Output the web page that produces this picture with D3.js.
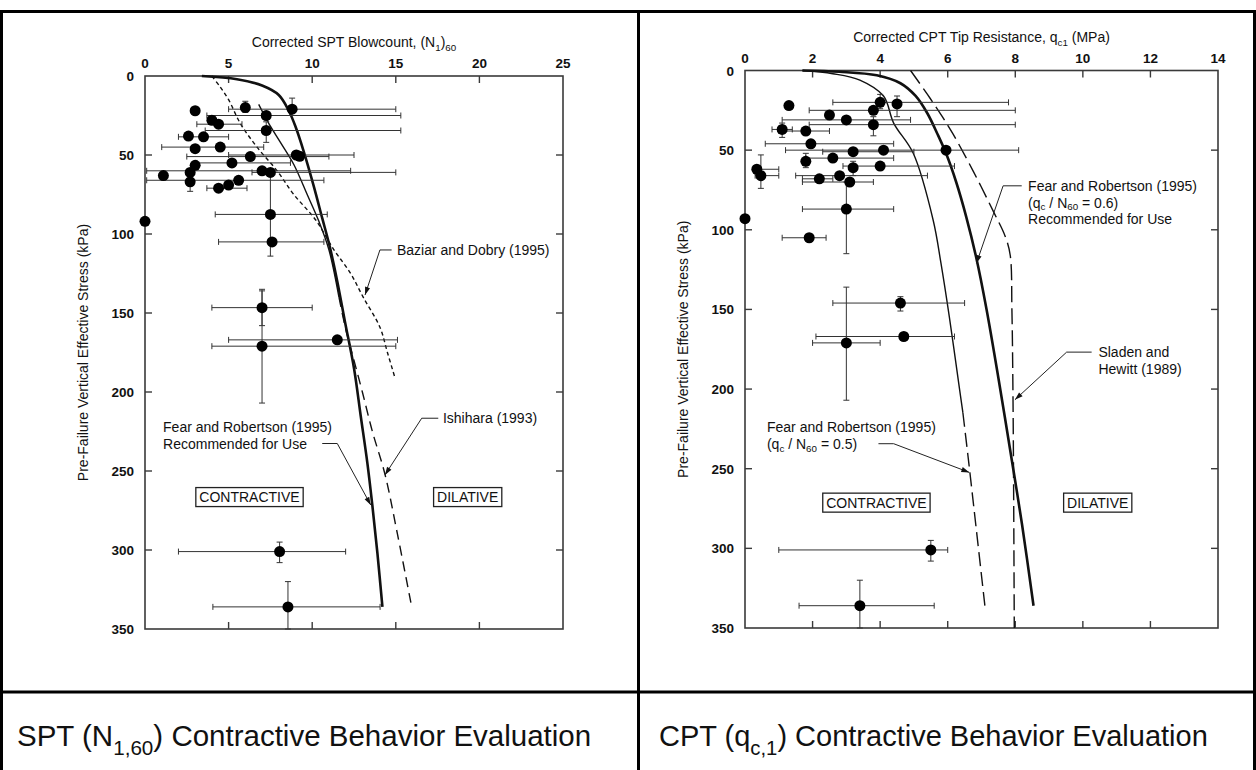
<!DOCTYPE html>
<html>
<head>
<meta charset="utf-8">
<script src="https://cdn.jsdelivr.net/npm/d3@7"></script>
<style>
  html, body { margin: 0; padding: 0; background: #fff; }
  svg { display: block; }
  text { font-family: "Liberation Sans", Arial, Helvetica, sans-serif; fill: #111; }
</style>
</head>
<body>
<svg id="chart" width="1256" height="770"></svg>
<script>
// ---- Axis ticks ----
const sptXTicks = [0, 5, 10, 15, 20, 25];
const cptXTicks = [0, 2, 4, 6, 8, 10, 12, 14];
const stressTicks = [0, 50, 100, 150, 200, 250, 300, 350];

// ---- Case histories: [x, stress kPa, xLow, xHigh, stressLow, stressHigh] ----
const sptPoints = [
  [0, 92], [1.1, 63], [3.0, 22],
  [6.0, 20, null, null, 16, 23],
  [8.8, 21, 5.0, 15.0, 14, 25],
  [7.25, 25, 3.7, 15.3],
  [4.0, 28],
  [4.4, 30.5, 3.1, 5.8],
  [7.25, 34.5, 3.6, 15.3, 29, 42],
  [2.6, 38],
  [3.5, 38.5, 2.0, 5.0],
  [3.0, 46],
  [4.5, 45, 1.0, 7.1],
  [6.3, 51, 2.5, 11.0],
  [9.05, 50, 5.0, 12.5],
  [9.25, 50.8],
  [5.2, 55, 3.1, 8.7],
  [3.0, 56.5], [2.7, 61],
  [7.0, 60, 0.1, 12.3],
  [7.5, 61, 6.4, 15.0],
  [2.7, 67, null, null, 61, 73],
  [5.6, 66, 0.1, 10.7],
  [4.4, 71, 3.7, 6.1],
  [5.0, 69],
  [7.5, 87.6, 4.2, 10.9, 61, 114],
  [7.6, 105, 4.4, 10.7],
  [7.0, 146.6, 4.0, 10.0, 136, 158],
  [7.0, 171, 4.0, 15.0, 135, 207],
  [11.5, 167, 5.0, 15.1],
  [8.05, 301, 2.0, 12.0, 295, 308],
  [8.55, 336, 4.06, 14.06, 320, 350]
];

const cptPoints = [
  [0, 93], [1.3, 22],
  [4.0, 20, 2.6, 7.8, 15, 24],
  [4.5, 21, null, null, 16, 29],
  [3.8, 25, 1.9, 8.0],
  [2.5, 28],
  [3.0, 31, 1.1, 4.9],
  [3.8, 34, 1.9, 8.0, 29, 41],
  [1.1, 37, 0.8, 1.4, 33, 42],
  [1.8, 38, 1.0, 2.5],
  [1.95, 46, 0.6, 4.4],
  [3.2, 51, 2.3, 5.0],
  [4.1, 50],
  [5.95, 50, 1.2, 8.1],
  [1.8, 57, null, null, 52, 61],
  [2.6, 55, 1.8, 4.4],
  [0.35, 62, 0.3, 1.0],
  [0.47, 66, 0.3, 1.0, 53, 74],
  [3.2, 61, null, null, 57, 66],
  [4.0, 60, 2.9, 6.2],
  [2.8, 66, 1.5, 5.4],
  [2.2, 68, 1.7, 2.6],
  [3.1, 70, 1.7, 3.8],
  [3.0, 87, 1.7, 4.4, 70, 115],
  [1.9, 105, 1.1, 2.4],
  [4.6, 146, 2.6, 6.5, 142, 151],
  [4.7, 167, 2.1, 6.2],
  [3.0, 171, 2.0, 4.0, 136, 207],
  [5.5, 301, 1.0, 6.0, 295, 308],
  [3.4, 336, 1.6, 5.6, 320, 350]
];

// ---- Contractive / dilative boundaries: [x, stress kPa] ----
const sptFearRobertson = [[3.4,0],[5.5,2],[7.0,6],[8.0,12],[8.6,22],[9.0,32],[9.5,48],[10.1,70],[10.6,90],[11.05,108],[11.5,130],[11.95,155],[12.5,185],[12.9,215],[13.3,245],[13.6,272],[13.9,302],[14.2,336]];
const sptBaziarDobry = [[4.0,0],[4.5,7],[5.0,15],[5.7,30],[6.7,45],[7.9,60],[8.9,75],[10.2,91],[11.3,110],[12.3,125],[13.05,140],[14.05,159],[14.5,175],[14.95,191]];
const sptIshihara = [[6.8,18],[7.4,30],[8.1,42],[8.9,56],[9.7,75],[10.4,92],[11.0,110],[11.6,140],[12.0,160],[12.5,180],[13.0,200],[13.6,225],[14.35,252],[15.1,290],[15.95,336]];
const sptIshiharaSolidTo = 140;

const cptFear06 = [[1.7,0],[2.8,0.8],[3.9,3],[4.6,8],[5.05,16],[5.4,27],[5.7,40],[5.95,52],[6.25,70],[6.55,92],[6.85,118],[7.15,150],[7.5,193],[7.9,245],[8.2,285],[8.54,336]];
const cptFear05 = [[1.7,0],[2.6,2],[3.4,6],[4.1,16],[4.4,33],[4.98,52],[5.57,94],[5.8,121],[6.05,155],[6.35,200],[6.45,215],[6.6,242],[6.66,253],[7.1,336]];
const cptFear05SolidTo = 215;
const cptSladenHewitt = [[4.9,0],[5.4,15],[5.84,29],[6.16,40],[6.75,63],[7.34,88],[7.7,104],[7.85,116],[7.9,150],[7.93,200],[7.95,260],[7.97,350]];

const svg = d3.select('#chart');
const FS = 14;      // annotation text size
const TICK_FS = 13.5;
const LINE_GAP = 16.8;

// ---- Table frame ----
const frame = svg.append('g').attr('stroke', '#000').attr('fill', 'none');
frame.append('line').attr('x1', 0).attr('x2', 1256).attr('y1', 11.5).attr('y2', 11.5).attr('stroke-width', 3);
frame.append('line').attr('x1', 0).attr('x2', 1256).attr('y1', 692).attr('y2', 692).attr('stroke-width', 3);
frame.append('line').attr('x1', 1.5).attr('x2', 1.5).attr('y1', 10).attr('y2', 770).attr('stroke-width', 3);
frame.append('line').attr('x1', 638.5).attr('x2', 638.5).attr('y1', 10).attr('y2', 770).attr('stroke-width', 3);
frame.append('line').attr('x1', 1254.5).attr('x2', 1254.5).attr('y1', 10).attr('y2', 770).attr('stroke-width', 3);

// rich text helper: parts = [[string, 'n' | 'sub'], ...]
function rich(sel, parts, size, subShift = 0.3) {
  parts.forEach(([t, kind], i) => {
    const ts = sel.append('tspan').text(t);
    if (kind === 'sub') {
      ts.attr('font-size', size * 0.7).attr('dy', size * subShift);
    } else if (i > 0 && parts[i - 1][1] === 'sub') {
      ts.attr('dy', -size * subShift);
    }
  });
  return sel;
}

// ---- Captions ----
rich(svg.append('text').attr('x', 17).attr('y', 746).attr('font-size', 29.5),
  [['SPT (N', 'n'], ['1,60', 'sub'], [') Contractive Behavior Evaluation', 'n']], 29.5);
rich(svg.append('text').attr('x', 659).attr('y', 746).attr('font-size', 29),
  [['CPT (q', 'n'], ['c,1', 'sub'], [') Contractive Behavior Evaluation', 'n']], 29);

function drawPanel(cfg) {
  const g = svg.append('g');
  const x = d3.scaleLinear().domain([0, cfg.xMax]).range([cfg.x0, cfg.x1]);
  const y = d3.scaleLinear().domain([0, 350]).range([cfg.y0, cfg.y1]);
  const axisColor = '#3a3a3a';
  const tickLen = 7;

  // frame
  g.append('rect').attr('x', x(0)).attr('y', y(0))
    .attr('width', x(cfg.xMax) - x(0)).attr('height', y(350) - y(0))
    .attr('fill', 'none').attr('stroke', axisColor).attr('stroke-width', 1.6);

  // inward ticks on all four sides
  const xt = cfg.xTicks.slice(1, -1);
  const yt = stressTicks.slice(1, -1);
  const tk = g.append('g').attr('stroke', axisColor).attr('stroke-width', 1.4);
  xt.forEach(v => {
    tk.append('line').attr('x1', x(v)).attr('x2', x(v)).attr('y1', y(0)).attr('y2', y(0) + tickLen);
    tk.append('line').attr('x1', x(v)).attr('x2', x(v)).attr('y1', y(350)).attr('y2', y(350) - tickLen);
  });
  yt.forEach(v => {
    tk.append('line').attr('y1', y(v)).attr('y2', y(v)).attr('x1', x(0)).attr('x2', x(0) + tickLen);
    tk.append('line').attr('y1', y(v)).attr('y2', y(v)).attr('x1', x(cfg.xMax)).attr('x2', x(cfg.xMax) - tickLen);
  });

  // tick labels
  g.append('g').selectAll('text').data(cfg.xTicks).join('text')
    .attr('x', d => x(d)).attr('y', y(0) - 13 + 5)
    .attr('text-anchor', 'middle').attr('font-size', TICK_FS).attr('font-weight', 'bold')
    .text(d => d);
  g.append('g').selectAll('text').data(stressTicks).join('text')
    .attr('x', x(0) - 11).attr('y', d => y(d) + 5)
    .attr('text-anchor', 'end').attr('font-size', TICK_FS).attr('font-weight', 'bold')
    .text(d => d);

  // axis titles
  rich(g.append('text').attr('x', (cfg.x0 + cfg.x1) / 2).attr('y', y(0) - 34 + 5)
    .attr('text-anchor', 'middle').attr('font-size', FS), cfg.xTitle, FS);
  const yc = (cfg.y0 + cfg.y1) / 2;
  g.append('text').attr('transform', `translate(${cfg.x0 - 62},${yc}) rotate(-90)`)
    .attr('text-anchor', 'middle').attr('dy', 5).attr('font-size', FS)
    .text('Pre-Failure Vertical Effective Stress  (kPa)');

  // boundary curves
  const line = d3.line().x(d => x(d[0])).y(d => y(d[1])).curve(d3.curveCatmullRom.alpha(0.5));
  cfg.curves.forEach(c => {
    if (c.solidTo != null) {
      const upper = c.data.filter(d => d[1] <= c.solidTo);
      const lower = c.data.filter(d => d[1] >= c.solidTo);
      g.append('path').attr('d', line(upper)).attr('fill', 'none')
        .attr('stroke', '#111').attr('stroke-width', c.width);
      g.append('path').attr('d', line(lower)).attr('fill', 'none')
        .attr('stroke', '#111').attr('stroke-width', c.width).attr('stroke-dasharray', c.dash);
    } else {
      g.append('path').attr('d', line(c.data)).attr('fill', 'none')
        .attr('stroke', '#111').attr('stroke-width', c.width)
        .attr('stroke-dasharray', c.dash || null);
    }
  });

  // error bars
  const eb = g.append('g').attr('stroke', '#333').attr('stroke-width', 1);
  const cap = 3;
  cfg.points.forEach(p => {
    const [px, py, xl, xh, yl, yh] = p;
    if (xl != null) {
      eb.append('line').attr('x1', x(xl)).attr('x2', x(xh)).attr('y1', y(py)).attr('y2', y(py));
      [xl, xh].forEach(v => eb.append('line').attr('x1', x(v)).attr('x2', x(v))
        .attr('y1', y(py) - cap).attr('y2', y(py) + cap));
    }
    if (yl != null) {
      eb.append('line').attr('x1', x(px)).attr('x2', x(px)).attr('y1', y(yl)).attr('y2', y(yh));
      [yl, yh].forEach(v => eb.append('line').attr('y1', y(v)).attr('y2', y(v))
        .attr('x1', x(px) - cap).attr('x2', x(px) + cap));
    }
  });

  // data points
  g.append('g').selectAll('circle').data(cfg.points).join('circle')
    .attr('cx', d => x(d[0])).attr('cy', d => y(d[1])).attr('r', 5.5).attr('fill', '#000');

  // annotations with leader arrows
  cfg.notes.forEach(n => {
    n.lines.forEach((ln, i) => {
      rich(g.append('text').attr('x', x(n.at[0])).attr('y', y(n.at[1]) + i * LINE_GAP + 5)
        .attr('font-size', FS), ln, FS, 0.2);
    });
    const pts = n.leader.map(d => [x(d[0]), y(d[1])]);
    g.append('path').attr('d', d3.line()(pts)).attr('fill', 'none')
      .attr('stroke', '#222').attr('stroke-width', 1);
    const [ex, ey] = pts[pts.length - 2];
    const [tx, ty] = pts[pts.length - 1];
    const a = Math.atan2(ty - ey, tx - ex);
    const L = 8, Wd = 2.6;
    const bx = tx - L * Math.cos(a), by = ty - L * Math.sin(a);
    g.append('path')
      .attr('d', `M${tx},${ty}L${bx - Wd * Math.sin(a)},${by + Wd * Math.cos(a)}L${bx + Wd * Math.sin(a)},${by - Wd * Math.cos(a)}Z`)
      .attr('fill', '#111');
  });

  // region labels in boxes
  cfg.regions.forEach(r => {
    const rg = g.append('g');
    const box = rg.append('rect');
    const t = rg.append('text').attr('x', x(r.at[0])).attr('y', y(r.at[1]) + 5)
      .attr('text-anchor', 'middle').attr('font-size', FS).text(r.label);
    const bb = t.node().getBBox();
    box.attr('x', bb.x - 3.5).attr('y', y(r.at[1]) - 9.5)
      .attr('width', bb.width + 7).attr('height', 19)
      .attr('fill', '#fff').attr('stroke', '#222').attr('stroke-width', 1.3);
  });
}

drawPanel({
  x0: 145, x1: 563, y0: 76, y1: 629, xMax: 25, xTicks: sptXTicks,
  xTitle: [['Corrected SPT Blowcount, (N', 'n'], ['1', 'sub'], [')', 'n'], ['60', 'sub']],
  points: sptPoints,
  curves: [
    { data: sptBaziarDobry, width: 1.4, dash: '4,3' },
    { data: sptIshihara, width: 1.4, dash: '10,6', solidTo: sptIshiharaSolidTo },
    { data: sptFearRobertson, width: 2.6 }
  ],
  notes: [
    { lines: [[['Baziar and Dobry (1995)', 'n']]], at: [15.07, 110.1],
      leader: [[14.75, 110.1], [14.05, 110.1], [13.16, 138.6]] },
    { lines: [[['Ishihara (1993)', 'n']]], at: [17.82, 216.6],
      leader: [[17.54, 216.6], [16.55, 216.6], [14.35, 252.5]] },
    { lines: [[['Fear and Robertson (1995)', 'n']], [['Recommended for Use', 'n']]], at: [1.08, 222],
      leader: [[10.6, 232.6], [11.5, 232.6], [13.5, 271.5]] }
  ],
  regions: [
    { label: 'CONTRACTIVE', at: [6.25, 266.5] },
    { label: 'DILATIVE', at: [19.3, 266.5] }
  ]
});

drawPanel({
  x0: 745, x1: 1218, y0: 70.5, y1: 628, xMax: 14, xTicks: cptXTicks,
  xTitle: [['Corrected CPT Tip Resistance, q', 'n'], ['c1', 'sub'], [' (MPa)', 'n']],
  points: cptPoints,
  curves: [
    { data: cptSladenHewitt, width: 1.4, dash: '16,6' },
    { data: cptFear05, width: 1.4, dash: '14,6', solidTo: cptFear05SolidTo },
    { data: cptFear06, width: 2.6 }
  ],
  notes: [
    { lines: [[['Fear and Robertson (1995)', 'n']], [['(q', 'n'], ['c', 'sub'], [' / N', 'n'], ['60', 'sub'], [' = 0.6)', 'n']], [['Recommended for Use', 'n']]],
      at: [8.38, 72.4], leader: [[8.19, 72.4], [7.64, 72.4], [6.85, 121]] },
    { lines: [[['Sladen and', 'n']], [['Hewitt (1989)', 'n']]], at: [10.46, 176.8],
      leader: [[10.26, 176.8], [9.52, 176.8], [7.99, 206.7]] },
    { lines: [[['Fear and Robertson (1995)', 'n']], [['(q', 'n'], ['c', 'sub'], [' / N', 'n'], ['60', 'sub'], [' = 0.5)', 'n']]],
      at: [0.65, 223.8], leader: [[3.95, 234.3], [4.4, 234.3], [6.64, 252.3]] }
  ],
  regions: [
    { label: 'CONTRACTIVE', at: [3.89, 271.3] },
    { label: 'DILATIVE', at: [10.44, 271.3] }
  ]
});
</script>
</body>
</html>
